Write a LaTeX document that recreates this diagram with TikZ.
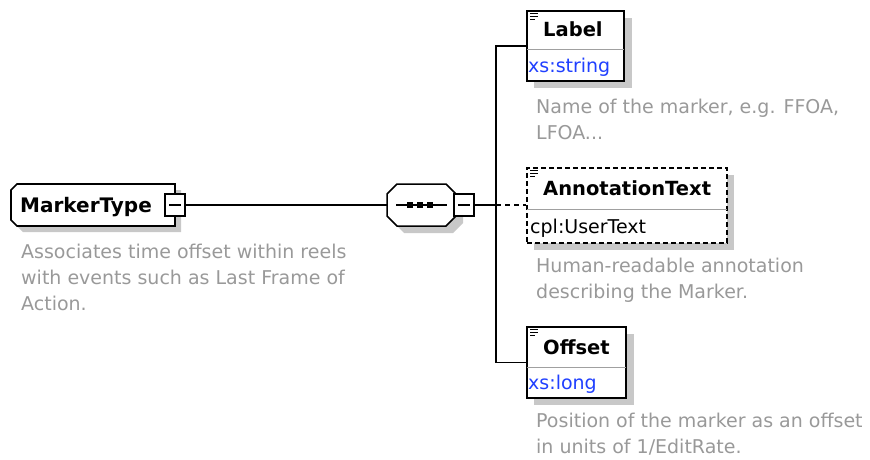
\documentclass[tikz,border=0pt]{standalone}
\usepackage{fontspec}
\setmainfont{DejaVu Sans}
\usetikzlibrary{calc}
\definecolor{desc}{HTML}{999999}
\definecolor{shadowgray}{HTML}{C8C8C8}
\definecolor{typeblue}{HTML}{2040FF}
\definecolor{divider}{HTML}{A0A0A0}
\tikzset{
  conn/.style={draw=black, line width=1.5pt},
  elbox/.style={rectangle, draw=black, line width=1.7pt, fill=white, inner sep=0pt, anchor=north west},
  shadowfill/.style={fill=shadowgray, draw=none},
  minusbox/.style={rectangle, draw=black, line width=1.3pt, fill=white, inner sep=0pt, minimum width=20pt, minimum height=22pt},
  titletext/.style={font=\bfseries\fontsize{19.5}{24}\selectfont, inner sep=0pt, anchor=base west},
  typetext/.style={font=\fontsize{19}{24}\selectfont, text=typeblue, inner sep=0pt, anchor=base west},
  desctext/.style={font=\fontsize{19}{26}\selectfont, text=desc, align=left, inner sep=0pt, anchor=base west},
  icon/.style={draw=black, line width=1.2pt}
}
\begin{document}
\begin{tikzpicture}[x=1pt,y=-1pt]
\useasboundingbox (0,0) rectangle (870,460);

% ---------- MarkerType ----------
\path[shadowfill] (23,190) -- (181,190) -- (181,232) -- (23,232) -- (17,226) -- (17,196) -- cycle;
\draw[fill=white, line width=1.7pt] (17,184) -- (175,184) -- (175,226) -- (17,226) -- (11,220) -- (11,190) -- cycle;
\node[titletext, font=\bfseries\fontsize{20}{24}\selectfont] (mt) at (20,212) {MarkerType};
\node[minusbox] (mtm) at (175,205) {};
\draw[line width=1.3pt] ($(mtm.center)+(-6,0)$) -- ($(mtm.center)+(6,0)$);
\node[desctext] (mtd) at (21,310) {Associates time offset within reels\\with events such as Last Frame of\\Action.};

% ---------- sequence ----------
\path[shadowfill] (404,191) -- (453,191) -- (463,201) -- (463,223) -- (453,233) -- (404,233) -- (394,223) -- (394,201) -- cycle;
\draw[fill=white, line width=1.5pt] (397,184) -- (446,184) -- (456,194) -- (456,216) -- (446,226) -- (397,226) -- (387,216) -- (387,194) -- cycle;
\node[rectangle, inner sep=0pt, minimum width=69pt, minimum height=42pt] (seq) at (421.5,205) {};
\draw[line width=1.4pt] (396,205) -- (447,205);
\foreach \dx in {410,420,430} \fill (\dx-2.8,202.2) rectangle (\dx+2.8,207.8);
\node[minusbox] (seqm) at (464,205) {};
\draw[line width=1.3pt] ($(seqm.center)+(-6,0)$) -- ($(seqm.center)+(6,0)$);

\draw[conn] (mtm.east) -- (seq.west);
\coordinate (bus) at (496,205);
\draw[conn] (seqm.east) -- (bus);

% ---------- Label ----------
\path[shadowfill] (534,18) rectangle (632,88);
\node[elbox, minimum width=97pt, minimum height=70pt] (lab) at (526,10) {};
\draw[divider, line width=1pt] ($(lab.north west)+(0.9,40)$) -- ($(lab.north east)+(-0.9,40)$);
\draw[icon] (530,13.5) -- (538,13.5) (530,16.5) -- (538,16.5) (530,19.5) -- (535,19.5);
\node[titletext] (labt) at (543,37) {Label};
\node[typetext] (labty) at (528,73) {xs:string};
\node[desctext] (labd) at (536,139) {Name of the marker, e.g. FFOA,\\LFOA...};

% ---------- AnnotationText ----------
\path[shadowfill] (534,175) rectangle (734,250);
\node[elbox, minimum width=200pt, minimum height=75pt, dash pattern=on 5pt off 3pt] (ann) at (526,167) {};
\draw[divider, line width=1pt] ($(ann.north west)+(0.9,42)$) -- ($(ann.north east)+(-0.9,42)$);
\draw[icon] (530,170.5) -- (538,170.5) (530,173.5) -- (538,173.5) (530,176.5) -- (535,176.5);
\node[titletext] (annt) at (543,195) {AnnotationText};
\node[typetext, text=black] (annty) at (530,233) {cpl:UserText};
\node[desctext] (annd) at (536,298) {Human-readable annotation\\describing the Marker.};

% ---------- Offset ----------
\path[shadowfill] (534,334) rectangle (634,405);
\node[elbox, minimum width=99pt, minimum height=71pt] (off) at (526,326) {};
\draw[divider, line width=1pt] ($(off.north west)+(0.9,41)$) -- ($(off.north east)+(-0.9,41)$);
\draw[icon] (530,329.5) -- (538,329.5) (530,332.5) -- (538,332.5) (530,335.5) -- (535,335.5);
\node[titletext] (offt) at (543,354) {Offset};
\node[typetext] (offty) at (528,389) {xs:long};
\node[desctext] (offd) at (536,453) {Position of the marker as an offset\\in units of 1/EditRate.};

% ---------- bus ----------
\draw[conn] (lab.west) -- (lab.west -| bus) -- (off.west -| bus) -- (off.west);
\draw[conn, dashed, dash pattern=on 5pt off 4pt] (bus) -- (ann.west |- bus);
\end{tikzpicture}
\end{document}
